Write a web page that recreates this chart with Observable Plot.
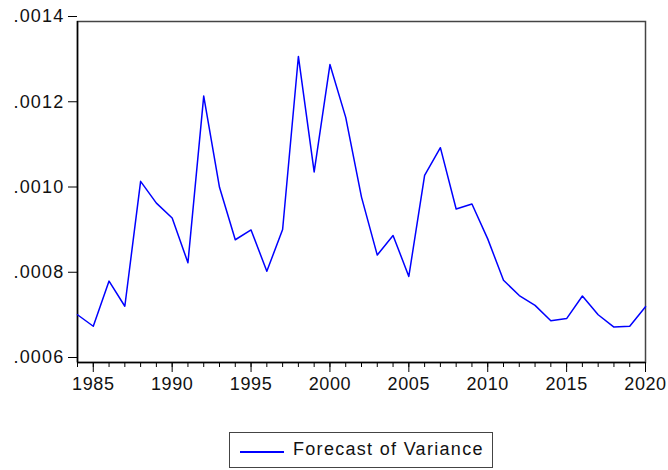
<!DOCTYPE html>
<html>
<head>
<meta charset="utf-8">
<script src="https://cdn.jsdelivr.net/npm/d3@7"></script>
<script src="https://cdn.jsdelivr.net/npm/@observablehq/plot@0.6"></script>
<style>
  body { margin: 0; background: #fff; }
  #wrap { position: relative; width: 668px; height: 470px; font-family: "Liberation Sans", Arial, sans-serif; }
  #chart svg text { font-size: 18px; letter-spacing: 0.6px; }
  #chart svg g[aria-label="y-axis tick label"] text { letter-spacing: 1.2px; }
  #legend { position: absolute; left: 229px; top: 432px; width: 264px; height: 36px; border: 1px solid #444; box-sizing: border-box; }
  #legend .sw { position: absolute; left: 10px; top: 18px; width: 44px; height: 1.5px; background: #0000ff; }
  #legend .lb { position: absolute; left: 63px; top: 6px; font-size: 18px; letter-spacing: 1.3px; color: #111; white-space: nowrap; }
</style>
</head>
<body>
<div id="wrap">
  <div id="chart"></div>
  <div id="legend"><div class="sw"></div><div class="lb">Forecast of Variance</div></div>
</div>
<script>
const years = d3.range(1984, 2021);
const variance = [
  0.000712, 0.000685, 0.000791, 0.000732, 0.001025, 0.000974, 0.000939, 0.000834,
  0.001225, 0.001011, 0.000888, 0.000911, 0.000814, 0.000912, 0.001318, 0.001047,
  0.001299, 0.001175, 0.000988, 0.000852, 0.000898, 0.000802, 0.001039, 0.001104,
  0.000960, 0.000972, 0.000890, 0.000793, 0.000757, 0.000734, 0.000698, 0.000703,
  0.000756, 0.000712, 0.000683, 0.000685, 0.000731
];
const yTicks = [0.0006, 0.0008, 0.0010, 0.0012, 0.0014];
const xLabelYears = [1985, 1990, 1995, 2000, 2005, 2010, 2015, 2020];

const data = years.map((y, i) => ({year: y, value: variance[i]}));

const chart = Plot.plot({
  width: 668,
  height: 400,
  marginLeft: 77,
  marginRight: 23,
  marginTop: 21,
  marginBottom: 38,
  style: {fontFamily: "Liberation Sans, Arial, sans-serif", fontSize: "18px", color: "#111", background: "#fff"},
  x: {domain: [1984, 2020]},
  y: {domain: [0.0006, 0.0014]},
  marks: [
    Plot.frame({stroke: "#444", strokeWidth: 1.5}),
    Plot.axisY({ticks: yTicks, tickSize: 9, tickPadding: 4, dy: -5, label: null, fontSize: 18,
      tickFormat: d => d.toFixed(4).replace(/^0/, ""), stroke: "#000", fill: "#111"}),
    Plot.axisX({ticks: years, tickSize: 5, label: null, tickFormat: () => "", stroke: "#000"}),
    Plot.axisX({ticks: xLabelYears, tickSize: 10, tickPadding: 5, label: null, fontSize: 18,
      tickFormat: d => String(d), stroke: "#000", fill: "#111"}),
    Plot.ruleX([1984], {stroke: "#000", strokeWidth: 1.5}),
    Plot.ruleY([0.0006], {stroke: "#000", strokeWidth: 1.5}),
    Plot.line(data, {x: "year", y: "value", stroke: "#0000ff", strokeWidth: 1.5})
  ]
});
document.getElementById("chart").appendChild(chart);
</script>
</body>
</html>
